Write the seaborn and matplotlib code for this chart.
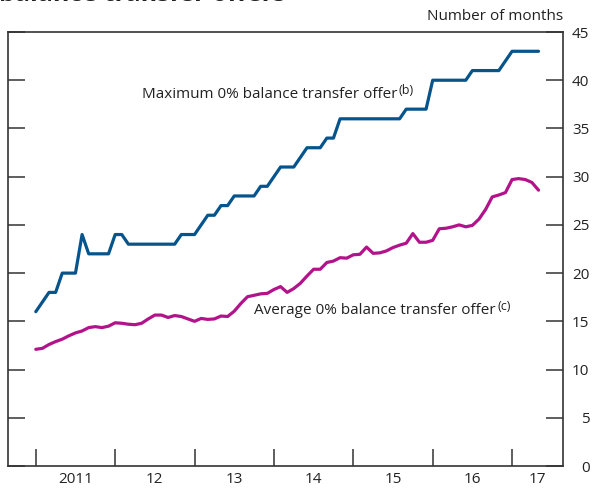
import numpy as np
import pandas as pd
import matplotlib
matplotlib.use("Agg")
import matplotlib.pyplot as plt
import seaborn as sns

# ---- data (monthly, Jan 2011 .. May 2017) ----
max_offer = [16, 17, 18, 18, 20, 20, 20, 24, 22, 22, 22, 22,
             24, 24, 23, 23, 23, 23, 23, 23, 23, 23, 24, 24,
             24, 25, 26, 26, 27, 27, 28, 28, 28, 28, 29, 29,
             30, 31, 31, 31, 32, 33, 33, 33, 34, 34, 36, 36,
             36, 36, 36, 36, 36, 36, 36, 36, 37, 37, 37, 37,
             40, 40, 40, 40, 40, 40, 41, 41, 41, 41, 41, 42,
             43, 43, 43, 43, 43]
avg_offer = [12.1, 12.2, 12.6, 12.9, 13.15, 13.5, 13.8, 14.0, 14.35, 14.45, 14.35, 14.5,
             14.85, 14.8, 14.7, 14.65, 14.8, 15.25, 15.65, 15.65, 15.4, 15.6, 15.5, 15.25,
             15.0, 15.3, 15.2, 15.25, 15.55, 15.5, 16.05, 16.85, 17.55, 17.7, 17.85, 17.9,
             18.3, 18.6, 18.0, 18.4, 18.95, 19.7, 20.4, 20.4, 21.1, 21.25, 21.6, 21.55,
             21.9, 21.95, 22.7, 22.05, 22.1, 22.3, 22.65, 22.9, 23.1, 24.1, 23.2, 23.2,
             23.4, 24.6, 24.65, 24.8, 25.0, 24.8, 24.95, 25.6, 26.6, 27.9, 28.1, 28.35,
             29.7, 29.8, 29.7, 29.4, 28.6]
year_labels = ["2011", "12", "13", "14", "15", "16", "17"]
y_ticks = [0, 5, 10, 15, 20, 25, 30, 35, 40, 45]

months = np.arange(len(max_offer))
df = pd.DataFrame({"month": np.concatenate([months, months]),
                   "value": max_offer + avg_offer,
                   "series": ["max"] * len(max_offer) + ["avg"] * len(avg_offer)})

sns.set_theme(style="white")
plt.rcParams["font.family"] = ["Open Sans", "DejaVu Sans"]

BLUE = "#06548c"
MAGENTA = "#b3138a"
DARK = "#222222"
FS = 11

fig = plt.figure(figsize=(5.95, 4.90), dpi=100)
ax = fig.add_axes([8 / 595, 24 / 490, 555 / 595, 434 / 490])

sns.lineplot(data=df, x="month", y="value", hue="series",
             palette={"max": BLUE, "avg": MAGENTA}, linewidth=2.3,
             legend=False, ax=ax)

ax.set_xlim(-4.2, 79.7)
ax.set_ylim(0, 45)
ax.set_xlabel("")
ax.set_ylabel("")

for s in ax.spines.values():
    s.set_visible(True)
    s.set_color("#333333")
    s.set_linewidth(1.2)

# y axis: ticks both sides inward, labels on right
ax.set_yticks(y_ticks)
ax.yaxis.set_ticks_position("both")
ax.tick_params(axis="y", which="major", direction="in", length=12, width=1.1,
               color="#333333", left=True, right=True, labelleft=False,
               labelright=True, labelsize=FS, labelcolor=DARK, pad=19)
for lab in ax.get_yticklabels():
    lab.set_horizontalalignment("right")

# x axis: year boundary ticks, labels in between
major_pos = [12 * i for i in range(7)]
label_pos = [6, 18, 30, 42, 54, 66, 75.8]
ax.set_xticks(major_pos)
ax.set_xticklabels([])
ax.set_xticks(label_pos, minor=True)
ax.set_xticklabels(year_labels, minor=True)
ax.tick_params(axis="x", which="major", direction="in", length=12, width=1.1,
               color="#333333", bottom=True, top=False)
ax.tick_params(axis="x", which="minor", length=0, labelsize=FS,
               labelcolor=DARK, pad=4)

t1 = ax.text(16.0, 38.5, "Maximum 0% balance transfer offer",
             ha="left", va="center", fontsize=FS, color=DARK)
ax.annotate("(b)", xy=(1.0, 0.8), xycoords=t1, xytext=(1, 0),
            textcoords="offset points", ha="left", va="center",
            fontsize=9, color=DARK)
t2 = ax.text(33.0, 16.1, "Average 0% balance transfer offer",
             ha="left", va="center", fontsize=FS, color=DARK)
ax.annotate("(c)", xy=(1.0, 0.8), xycoords=t2, xytext=(1, 0),
            textcoords="offset points", ha="left", va="center",
            fontsize=9, color=DARK)

fig.text(563 / 595, 1 - 16 / 490, "Number of months", ha="right",
         va="center", fontsize=FS, color=DARK)
fig.text(-0.002, 1 - 1 / 490, "balance transfer offers", ha="left",
         va="baseline", fontsize=18, fontweight="bold", color=DARK)

fig.savefig("out.png", dpi=100)
